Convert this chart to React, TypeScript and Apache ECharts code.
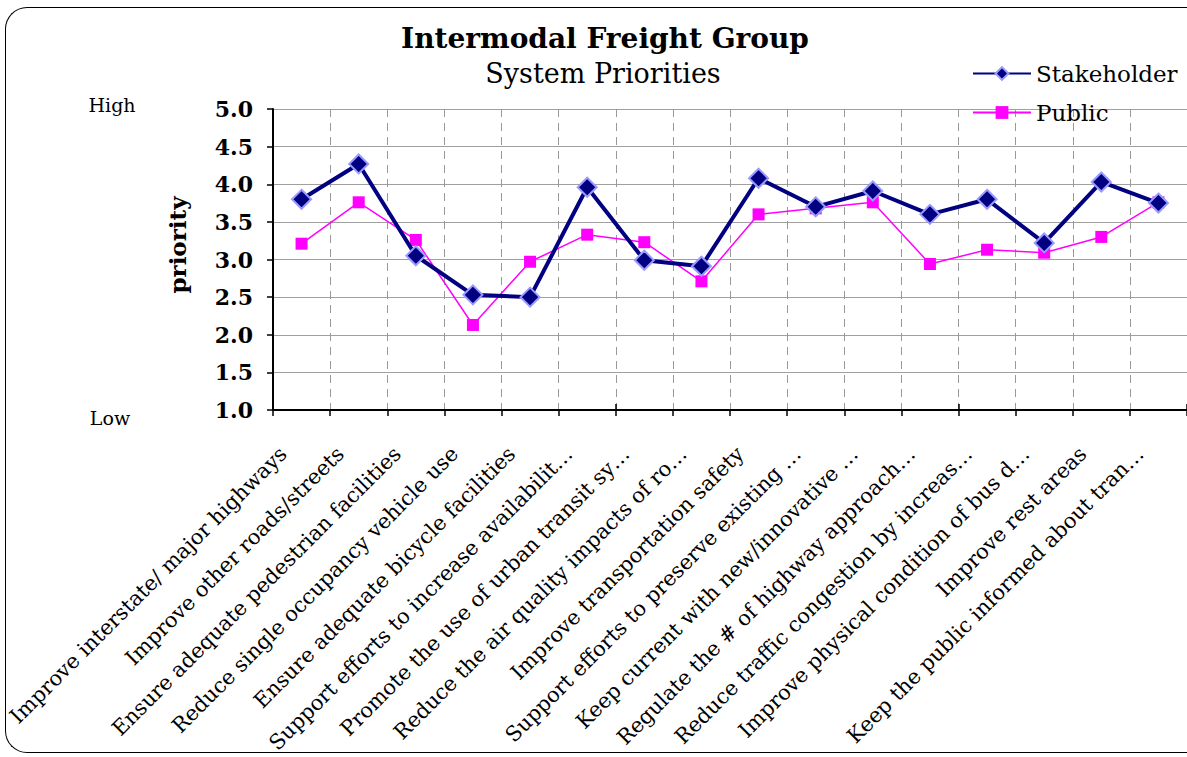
import React, { useEffect, useRef } from "react";
import * as echarts from "echarts";

const categories = [
  "Improve interstate/ major highways",
  "Improve other roads/streets",
  "Ensure adequate pedestrian facilities",
  "Reduce single occupancy vehicle use",
  "Ensure adequate bicycle facilities",
  "Support efforts to increase availabilit…",
  "Promote the use of urban transit sy…",
  "Reduce the air quality impacts of ro…",
  "Improve transportation safety",
  "Support efforts to preserve existing …",
  "Keep current with new/innovative …",
  "Regulate the # of highway approach…",
  "Reduce traffic congestion by increas…",
  "Improve physical condition of bus d…",
  "Improve rest areas",
  "Keep the public informed about tran…",
];

const stakeholder = [3.8, 4.27, 3.05, 2.53, 2.5, 3.96, 2.99, 2.91, 4.08, 3.7, 3.91, 3.6, 3.8, 3.22, 4.03, 3.75];
const publicValues = [3.21, 3.76, 3.26, 2.13, 2.97, 3.33, 3.23, 2.71, 3.6, 3.68, 3.76, 2.94, 3.13, 3.09, 3.3, 3.76];

const titleText = "Intermodal Freight Group";
const subtitleText = "System Priorities";
const yAxisName = "priority";
const highLabel = "High";
const lowLabel = "Low";

const SERIF = "'DejaVu Serif', serif";

export default function App() {
  const ref = useRef<HTMLDivElement>(null);

  useEffect(() => {
    document.body.style.margin = "0";
    const chart = echarts.init(ref.current!, null, { renderer: "svg" });
    const gridLeft = 273;
    const gridTop = 109;
    const gridWidth = 917;
    const gridHeight = 301;
    chart.setOption({
      animation: false,
      textStyle: { fontFamily: SERIF },
      title: [
        {
          text: titleText,
          left: 600,
          top: 19,
          textAlign: "center",
          textStyle: { fontFamily: SERIF, fontWeight: "bold", fontSize: 28, color: "#000" },
        },
        {
          text: subtitleText,
          left: 598,
          top: 55,
          textAlign: "center",
          textStyle: { fontFamily: SERIF, fontWeight: "normal", fontSize: 27, color: "#000" },
        },
      ],
      legend: {
        orient: "vertical",
        left: 967,
        top: 57,
        itemWidth: 58,
        itemHeight: 16,
        itemGap: 16,
        textStyle: { fontFamily: SERIF, fontSize: 23, color: "#000" },
        data: ["Stakeholder", "Public"],
      },
      grid: { left: gridLeft, top: gridTop, width: gridWidth, height: gridHeight, containLabel: false },
      xAxis: [
        {
          type: "category",
          data: categories,
          boundaryGap: true,
          axisLine: { lineStyle: { color: "#000", width: 2 } },
          axisTick: { show: true, length: 6, lineStyle: { color: "#000", width: 1.5 } },
          axisLabel: {
            interval: 0,
            rotate: 45,
            margin: 22,
            padding: [0, 26, 0, 0],
            fontFamily: SERIF,
            fontSize: 21,
            color: "#000",
          },
          splitLine: { show: true, interval: 0, lineStyle: { color: "#999", type: [8, 6], width: 1 } },
        },
        {
          type: "category",
          data: categories,
          boundaryGap: true,
          position: "bottom",
          gridIndex: 0,
          axisLine: { show: false },
          axisTick: { show: true, inside: true, length: 6, lineStyle: { color: "#000", width: 1.5 } },
          axisLabel: { show: false },
          splitLine: { show: false },
        },
      ],
      yAxis: {
        type: "value",
        min: 1,
        max: 5,
        interval: 0.5,
        axisLine: { show: true, lineStyle: { color: "#000", width: 2 } },
        axisTick: { show: true, length: 6, lineStyle: { color: "#000", width: 1.5 } },
        axisLabel: {
          margin: 20,
          fontFamily: SERIF,
          fontWeight: "bold",
          fontSize: 22,
          color: "#000",
          formatter: (v: number) => v.toFixed(1),
        },
        splitLine: { show: true, lineStyle: { color: "#a0a0a0", width: 1 } },
      },
      graphic: [
        {
          type: "text",
          x: 112,
          y: 105,
          style: { text: highLabel, font: `19px ${SERIF}`, fill: "#000", textAlign: "center", textVerticalAlign: "middle" },
        },
        {
          type: "text",
          x: 110,
          y: 418,
          style: { text: lowLabel, font: `19px ${SERIF}`, fill: "#000", textAlign: "center", textVerticalAlign: "middle" },
        },
        {
          type: "text",
          x: 177,
          y: 245,
          rotation: Math.PI / 2,
          style: { text: yAxisName, font: `bold 23px ${SERIF}`, fill: "#000", textAlign: "center", textVerticalAlign: "middle" },
        },
      ],
      series: [
        {
          name: "Public",
          type: "line",
          data: publicValues,
          symbol: "rect",
          symbolSize: 12,
          lineStyle: { color: "#ff00ff", width: 1.5 },
          itemStyle: { color: "#ff00ff", borderColor: "#ff00ff", borderWidth: 0 },
          z: 2,
        },
        {
          name: "Stakeholder",
          type: "line",
          data: stakeholder,
          symbol: "diamond",
          symbolSize: 19,
          lineStyle: { color: "#000080", width: 4 },
          itemStyle: { color: "#000080", borderColor: "#9999ff", borderWidth: 2 },
          z: 3,
        },
      ],
    });
    return () => chart.dispose();
  }, []);

  return (
    <div
      style={{
        position: "absolute",
        left: 0,
        top: 0,
        width: 1187,
        height: 757,
        overflow: "hidden",
        background: "#fff",
      }}
    >
      <div
        style={{
          position: "absolute",
          left: 5,
          top: 7,
          width: 1240,
          height: 746,
          borderTop: "1.5px solid #000",
          borderLeft: "1.5px solid #000",
          borderBottom: "1.5px solid #000",
          borderRight: "none",
          borderRadius: 22,
          boxSizing: "border-box",
          pointerEvents: "none",
        }}
      />
      <div ref={ref} style={{ position: "absolute", left: 0, top: 0, width: 1187, height: 757 }} />
    </div>
  );
}
